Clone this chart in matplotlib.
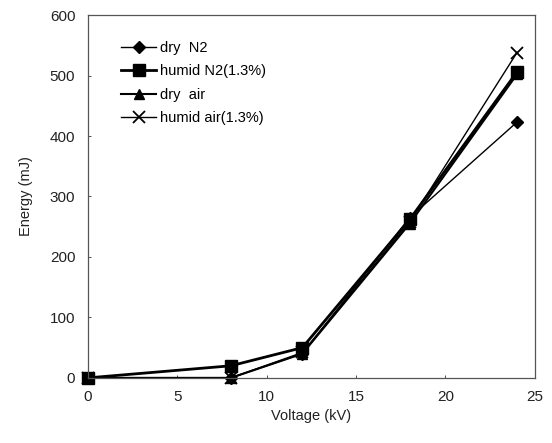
import matplotlib
matplotlib.use("Agg")
import matplotlib.pyplot as plt
import numpy as np

plt.rcParams['font.family'] = ['Liberation Sans', 'DejaVu Sans']

voltage = [0, 8, 12, 18, 24]
dry_n2 = [0, 0, 40, 265, 423]
humid_n2 = [0, 20, 50, 262, 506]
dry_air = [0, 0, 40, 255, 502]
humid_air = [0, 0, 42, 258, 538]

fig = plt.figure(figsize=(5.52, 4.43), dpi=100)
ax = fig.add_axes([0.159, 0.147, 0.810, 0.819])

ax.plot(voltage, dry_n2, color='k', lw=1.0, marker='D', ms=6, label='dry  N2', clip_on=False)
ax.plot(voltage, humid_n2, color='k', lw=2.0, marker='s', ms=8, label='humid N2(1.3%)', clip_on=False)
ax.plot(voltage, dry_air, color='k', lw=1.5, marker='^', ms=7, label='dry  air', clip_on=False)
ax.plot(voltage, humid_air, color='k', lw=1.0, marker='x', ms=9, mew=1.3, label='humid air(1.3%)', clip_on=False)

ax.set_xlim(0, 25)
ax.set_ylim(0, 600)
ax.set_xticks([0, 5, 10, 15, 20, 25])
ax.set_yticks([0, 100, 200, 300, 400, 500, 600])
ax.tick_params(direction='in', length=2, width=0.6, labelsize=11, colors='#333333', pad=9)
ax.tick_params(labelcolor='#222222')
for s in ax.spines.values():
    s.set_color('#555555')
    s.set_linewidth(0.9)
ax.set_xlabel('Voltage (kV)', fontsize=10.5, color='#222222', labelpad=3)
ax.set_ylabel('Energy (mJ)', fontsize=10.5, color='#222222', labelpad=12)

ax.legend(loc='upper left', bbox_to_anchor=(0.045, 0.965), frameon=False,
          fontsize=10.5, handlelength=2.4, handletextpad=0.3, labelspacing=0.65)

fig.savefig('out.png', dpi=100)
